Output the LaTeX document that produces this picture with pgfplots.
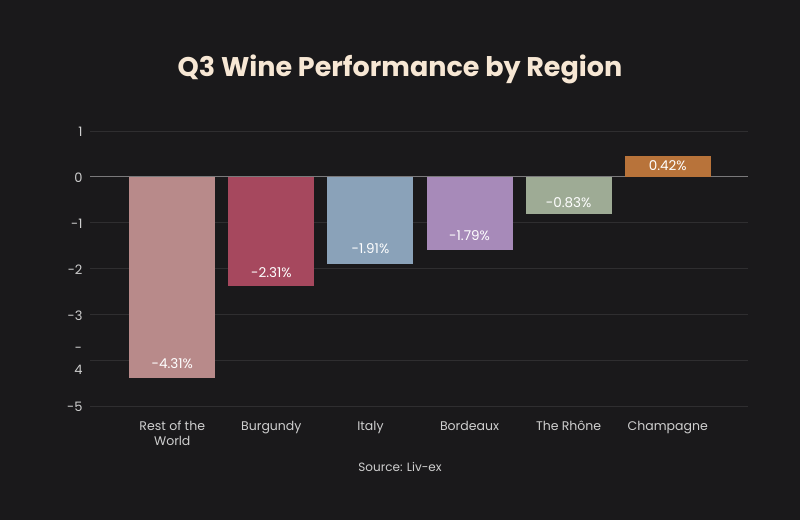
\documentclass[border=0pt]{standalone}
\usepackage{fontspec}
\setmainfont{Poppins}
\usepackage{pgfplots}
\pgfplotsset{compat=1.18}
\definecolor{bg}{HTML}{1A191B}
\definecolor{titlec}{HTML}{F7E7D4}
\definecolor{labc}{HTML}{CFCFCF}
\definecolor{gridc}{HTML}{2F2E30}
\definecolor{zeroc}{HTML}{7A797B}
\definecolor{cA}{HTML}{B88A8A}
\definecolor{cB}{HTML}{A6485E}
\definecolor{cC}{HTML}{8AA2B9}
\definecolor{cD}{HTML}{A78AB9}
\definecolor{cE}{HTML}{9EAB95}
\definecolor{cF}{HTML}{B8733A}
\begin{document}
\begin{tikzpicture}
\fill[bg] (0,0) rectangle (800pt,520pt);
\node[font=\fontsize{27}{31}\selectfont\bfseries, text=titlec] at (400pt,451pt) {Q3 Wine Performance by Region};
\node[font=\fontsize{12}{14}\selectfont, text=labc] at (400pt,53pt) {Source: Liv-ex};
\begin{axis}[
  at={(90pt,114pt)}, anchor=south west, scale only axis,
  width=658pt, height=275pt,
  xmin=-0.83, xmax=5.81, ymin=-5, ymax=1,
  axis line style={draw=none},
  major tick length=0pt,
  ymajorgrids, grid style={gridc, line width=1pt},
  ytick={-5,-4,-3,-2,-1,0,1},
  yticklabels={-5,{-\\4},-3,-2,-1,0,1},
  yticklabel style={font=\fontsize{13}{22}\selectfont, text=labc, align=center, xshift=-4pt, yshift=-1pt},
  xtick={0,1,2,3,4,5},
  xticklabels={{\vphantom{Ô}Rest of the\\World},\vphantom{Ô}Burgundy,\vphantom{Ô}Italy,\vphantom{Ô}Bordeaux,\vphantom{Ô}The Rhône,\vphantom{Ô}Champagne},
  xticklabel style={font=\fontsize{12.5}{15}\selectfont, text=labc, align=center, yshift=-10pt},
  extra y ticks={0}, extra y tick labels={},
  extra y tick style={grid style={zeroc, line width=1pt}},
  clip=false,
]
\addplot[ybar, bar width=86pt, bar shift=0pt, fill=cA, draw=none] coordinates {(0,-4.39)};
\addplot[ybar, bar width=86pt, bar shift=0pt, fill=cB, draw=none] coordinates {(1,-2.38)};
\addplot[ybar, bar width=86pt, bar shift=0pt, fill=cC, draw=none] coordinates {(2,-1.90)};
\addplot[ybar, bar width=86pt, bar shift=0pt, fill=cD, draw=none] coordinates {(3,-1.59)};
\addplot[ybar, bar width=86pt, bar shift=0pt, fill=cE, draw=none] coordinates {(4,-0.81)};
\addplot[ybar, bar width=86pt, bar shift=0pt, fill=cF, draw=none] coordinates {(5,0.46)};
\addplot[draw=none, mark=none, nodes near coords, point meta=explicit symbolic,
  nodes near coords style={anchor=center, text=white, font=\fontsize{13.5}{16}\selectfont}]
  coordinates {(0,-4.08) [-4.31\%] (1,-2.10) [-2.31\%] (2,-1.57) [-1.91\%] (3,-1.29) [-1.79\%] (4,-0.57) [-0.83\%] (5,0.24) [0.42\%]};
\end{axis}
\end{tikzpicture}
\end{document}
